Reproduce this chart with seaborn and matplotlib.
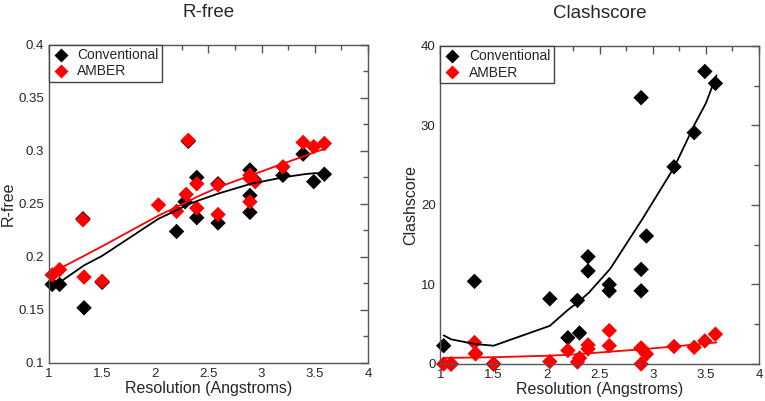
import pandas as pd
import matplotlib
matplotlib.use("Agg")
import matplotlib.pyplot as plt
import seaborn as sns
from matplotlib.ticker import MultipleLocator

# -----------------------------
# Data
# -----------------------------
res_x = [1.03, 1.10, 1.32, 1.33, 1.50, 2.03, 2.20, 2.29, 2.31, 2.39, 2.39,
         2.59, 2.59, 2.89, 2.89, 2.89, 2.94, 3.20, 3.39, 3.49, 3.59]

# R-free
rfree_conv_x = [1.03, 1.10, 1.32, 1.33, 1.50, 2.20, 2.28, 2.31, 2.39, 2.39,
                2.59, 2.59, 2.89, 2.89, 2.89, 2.93, 3.20, 3.39, 3.49, 3.59]
rfree_conv = [0.174, 0.174, 0.236, 0.152, 0.176, 0.224, 0.252, 0.309, 0.275, 0.237,
              0.269, 0.232, 0.282, 0.258, 0.242, 0.273, 0.277, 0.297, 0.271, 0.278]
rfree_amber = [0.183, 0.188, 0.235, 0.181, 0.177, 0.249, 0.243, 0.259, 0.310, 0.269,
               0.246, 0.268, 0.240, 0.277, 0.274, 0.252, 0.271, 0.285, 0.308, 0.304, 0.307]

# Clashscore
clash_conv = [2.3, 0.0, 10.4, 1.3, 0.0, 8.2, 3.3, 8.0, 3.9, 13.5, 11.7,
              10.0, 9.2, 33.5, 11.9, 9.2, 16.1, 24.8, 29.1, 36.8, 35.3]
clash_amber = [0.0, 0.0, 2.7, 1.3, 0.0, 0.3, 1.7, 0.25, 0.75, 2.4, 1.9,
               4.2, 2.3, 2.0, 2.0, 0.0, 1.25, 2.2, 2.1, 2.9, 3.75]

# trend lines
fit_x = [1.03, 1.10, 1.33, 1.50, 2.03, 2.20, 2.30, 2.40, 2.60, 2.90, 3.20, 3.40, 3.50, 3.60]
rfree_conv_fit = [0.170, 0.176, 0.192, 0.201, 0.236, 0.244, 0.249, 0.253, 0.260, 0.269,
                  0.275, 0.278, 0.279, 0.279]
rfree_amber_fit = [0.184, 0.189, 0.201, 0.210, 0.239, 0.247, 0.252, 0.257, 0.266, 0.277,
                   0.288, 0.295, 0.299, 0.302]
clash_conv_fit = [3.6, 3.1, 2.5, 2.3, 4.8, 6.8, 7.8, 9.0, 12.0, 18.2, 24.7, 30.3, 32.8, 36.3]
clash_amber_fit = [0.75, 0.77, 0.82, 0.85, 1.05, 1.15, 1.25, 1.35, 1.55, 1.85, 2.2, 2.45,
                   2.6, 2.7]

# -----------------------------
# Tables for seaborn
# -----------------------------
rfree_df = pd.DataFrame({
    "x": rfree_conv_x + res_x,
    "y": rfree_conv + rfree_amber,
    "method": ["Conventional"] * len(rfree_conv) + ["AMBER"] * len(rfree_amber),
})
clash_df = pd.DataFrame({
    "x": res_x + res_x,
    "y": clash_conv + clash_amber,
    "method": ["Conventional"] * len(clash_conv) + ["AMBER"] * len(clash_amber),
})
rfree_fit = pd.DataFrame({
    "x": fit_x + fit_x,
    "y": rfree_conv_fit + rfree_amber_fit,
    "method": ["Conventional"] * len(fit_x) + ["AMBER"] * len(fit_x),
})
clash_fit = pd.DataFrame({
    "x": fit_x + fit_x,
    "y": clash_conv_fit + clash_amber_fit,
    "method": ["Conventional"] * len(fit_x) + ["AMBER"] * len(fit_x),
})

palette = {"Conventional": "black", "AMBER": "#ff0000"}

sns.set_theme(style="white")
plt.rcParams["font.family"] = ["Liberation Sans", "DejaVu Sans"]

fig = plt.figure(figsize=(7.65, 4.01), dpi=100)
ax1 = fig.add_axes([0.064, 0.095, 0.417, 0.793])
ax2 = fig.add_axes([0.5758, 0.0923, 0.4163, 0.793])


def draw(ax, pts, fit, title, ylabel, ylim, ymajor, yminor):
    sns.scatterplot(data=pts, x="x", y="y", hue="method", palette=palette,
                    marker="D", s=62, edgecolor="none", ax=ax, zorder=2,
                    clip_on=False)
    sns.lineplot(data=fit, x="x", y="y", hue="method", palette=palette,
                 linewidth=1.3, ax=ax, legend=False, zorder=3, sort=False)
    ax.set_xlim(1, 4)
    ax.set_ylim(*ylim)
    ax.xaxis.set_major_locator(MultipleLocator(0.5))
    ax.xaxis.set_minor_locator(MultipleLocator(0.25))
    ax.yaxis.set_major_locator(MultipleLocator(ymajor))
    ax.yaxis.set_minor_locator(MultipleLocator(yminor))
    ax.xaxis.set_major_formatter(lambda v, p: f"{v:g}")
    ax.yaxis.set_major_formatter(lambda v, p: f"{v:g}")
    ax.tick_params(which="both", direction="in", top=True, right=True,
                   color="#555555", labelsize=9.5, pad=3.5)
    ax.tick_params(which="major", length=6, width=1)
    ax.tick_params(which="minor", length=3.5, width=1)
    for s in ax.spines.values():
        s.set_color("#555555")
        s.set_linewidth(1)
    ax.set_title(title, fontsize=13.5, pad=20)
    ax.set_xlabel("Resolution (Angstroms)", fontsize=11.5, labelpad=1)
    ax.set_ylabel(ylabel, fontsize=11.5, labelpad=2)
    leg = ax.legend(loc="upper left", borderaxespad=0, fancybox=False,
                    edgecolor="#444444", framealpha=1, fontsize=10,
                    handletextpad=0.6, borderpad=0.25, labelspacing=0.15,
                    handlelength=1.2, markerscale=0.9)
    leg.get_frame().set_linewidth(1)


draw(ax1, rfree_df, rfree_fit, "R-free", "R-free", (0.1, 0.4), 0.05, 0.025)
draw(ax2, clash_df, clash_fit, "Clashscore", "Clashscore", (0, 40), 10, 5)

fig.savefig("out.png", dpi=100)
